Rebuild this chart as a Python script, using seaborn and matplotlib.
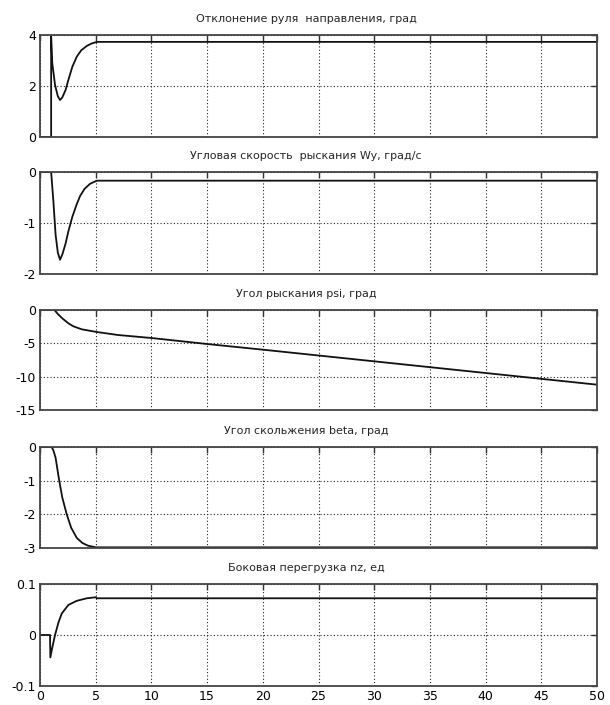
import numpy as np
import matplotlib
matplotlib.use("Agg")
import matplotlib.pyplot as plt
import seaborn as sns

# ============ DATA ============
titles = [
    "Отклонение руля  направления, град",
    "Угловая скорость  рыскания Wy, град/с",
    "Угол рыскания psi, град",
    "Угол скольжения beta, град",
    "Боковая перегрузка nz, ед",
]

# rudder deflection
t_rud = [0, 1.0, 1.0, 1.1, 1.35, 1.6, 1.8, 2.0, 2.3, 2.55, 2.9, 3.3, 3.7, 4.2, 4.6, 5.1, 50]
y_rud = [0, 0, 3.95, 2.9, 2.04, 1.6, 1.45, 1.55, 1.85, 2.24, 2.75, 3.15, 3.4, 3.57, 3.66, 3.73, 3.73]

# yaw rate Wy
t_wy = [0, 1.0, 1.2, 1.4, 1.6, 1.8, 2.0, 2.3, 2.55, 2.9, 3.3, 3.6, 4.0, 4.5, 5.1, 50]
y_wy = [0, 0, -0.57, -1.23, -1.58, -1.72, -1.62, -1.4, -1.16, -0.88, -0.63, -0.47, -0.33, -0.23, -0.17, -0.17]

# yaw angle psi
t_psi = [0, 1.3, 1.6, 2.0, 2.55, 3.0, 3.75, 5.1, 7.0, 10, 15, 20, 30, 40, 50]
y_psi = [0, 0, -0.6, -1.25, -2.0, -2.45, -2.9, -3.3, -3.75, -4.2, -5.1, -5.95, -7.7, -9.45, -11.2]

# sideslip beta
t_beta = [0, 1.05, 1.2, 1.4, 1.7, 2.0, 2.4, 2.8, 3.3, 3.8, 4.3, 5.0, 50]
y_beta = [0, 0, -0.1, -0.32, -0.95, -1.5, -2.0, -2.4, -2.7, -2.85, -2.93, -2.98, -2.98]

# lateral load factor nz
t_nz = [0, 0.9, 0.93, 1.1, 1.35, 1.65, 1.95, 2.55, 3.3, 4.2, 5.0, 5.1, 50]
y_nz = [0, 0, -0.044, -0.025, 0.0, 0.024, 0.042, 0.059, 0.067, 0.072, 0.074, 0.072, 0.072]

series = [(t_rud, y_rud), (t_wy, y_wy), (t_psi, y_psi), (t_beta, y_beta), (t_nz, y_nz)]
ylims = [(0, 4), (-2, 0), (-15, 0), (-3, 0), (-0.1, 0.1)]
yticks = [[0, 2, 4], [-2, -1, 0], [-15, -10, -5, 0], [-3, -2, -1, 0], [-0.1, 0, 0.1]]
ytick_labels = [["0", "2", "4"], ["-2", "-1", "0"], ["-15", "-10", "-5", "0"],
                ["-3", "-2", "-1", "0"], ["-0.1", "0", "0.1"]]
xticks = list(range(0, 55, 5))

# ============ PLOT ============
sns.set_style("white")
plt.rcParams['font.family'] = ['DejaVu Sans']

W, H = 610, 705
fig = plt.figure(figsize=(W / 100, H / 100), dpi=100)

# panel pixel bounds (top, bottom)
panel_px = [(35, 137), (172, 274), (310, 410), (447, 548), (584, 686)]
left_px, right_px = 40, 597
title_x = (306 - left_px) / (right_px - left_px)

for i, ((t, y), (top, bot)) in enumerate(zip(series, panel_px)):
    ax = fig.add_axes([left_px / W, 1 - bot / H, (right_px - left_px) / W, (bot - top) / H])
    sns.lineplot(x=t, y=y, ax=ax, color="#111111", linewidth=1.3,
                 estimator=None, sort=False)
    ax.set_xlim(0, 50)
    ax.set_ylim(*ylims[i])
    ax.set_xticks(xticks)
    ax.set_yticks(yticks[i])
    ax.set_yticklabels(ytick_labels[i])
    if i < 4:
        ax.set_xticklabels([])
    ax.grid(True, color="#222222", linestyle=(0, (1, 2)), linewidth=0.8)
    ax.tick_params(direction="in", length=4, width=1, top=True, right=True,
                   labelsize=9, pad=3, colors="#333333", labelcolor="black")
    for sp in ax.spines.values():
        sp.set_color("#444444")
        sp.set_linewidth(1.3)
    ax.set_title(titles[i], fontsize=8, pad=9.5, x=title_x)
    ax.set_xlabel("")
    ax.set_ylabel("")

fig.savefig("out.png", dpi=100)
